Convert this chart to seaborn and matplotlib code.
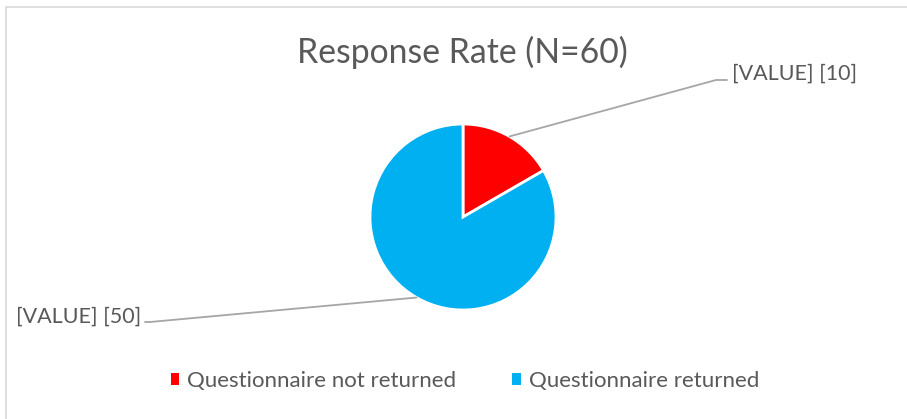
import numpy as np
import matplotlib.pyplot as plt
import seaborn as sns
from matplotlib.patches import Rectangle, Patch

# data
categories = ['Questionnaire not returned', 'Questionnaire returned']
counts = [10, 50]
labels = ['[VALUE] [10]', '[VALUE] [50]']
colors = ['#FF0000', '#00B0F0']
title = 'Response Rate (N=60)'

sns.set_theme(style='white')
plt.rcParams['font.family'] = ['Lato', 'DejaVu Sans']
text_color = '#595959'

W, H = 907, 419
fig = plt.figure(figsize=(W / 100, H / 100), dpi=100)
# axes in pixel coordinates (y up)
ax = fig.add_axes([0, 0, 1, 1])

cx, cy, r = 463, H - 217, 93
wedges, _ = ax.pie(counts, colors=colors, startangle=90, counterclock=False,
                   center=(cx, cy), radius=r, frame=True,
                   wedgeprops=dict(edgecolor='white', linewidth=2))
ax.set_xlim(0, W)
ax.set_ylim(0, H)
ax.axis('off')

# leader lines and labels
elbows = [(716, H - 80), (150, H - 322)]
ends = [(727, H - 80), (145, H - 322)]
text_pos = [(732, H - 74), (141, H - 317)]
aligns = ['left', 'right']
for w, lab, el, en, tp, ha in zip(wedges, labels, elbows, ends, text_pos, aligns):
    mid = np.deg2rad((w.theta1 + w.theta2) / 2)
    sx, sy = cx + r * np.cos(mid), cy + r * np.sin(mid)
    ax.plot([sx, el[0], en[0]], [sy, el[1], en[1]], color='#A6A6A6', lw=1.3)
    ax.text(tp[0], tp[1], lab, ha=ha, va='center', fontsize=15.5, color=text_color)

ax.text(462, H - 52, title, ha='center', va='center', fontsize=24.3, color=text_color)

handles = [Patch(facecolor=c, edgecolor='none') for c in colors]
fig.legend(handles, categories, loc='center', bbox_to_anchor=(465 / W, 1 - 381 / H),
           ncol=2, frameon=False, fontsize=16, handlelength=0.4, handleheight=0.4,
           handletextpad=0.36, columnspacing=2.5, labelcolor=text_color)

# chart border (right and bottom edges fall outside the image)
fig.patches.append(Rectangle((6 / W, -0.1), 1.0, (H - 7) / H + 0.1, transform=fig.transFigure,
                             fill=False, edgecolor='#D9D9D9', lw=1.2))

fig.savefig('out.png', dpi=100)
